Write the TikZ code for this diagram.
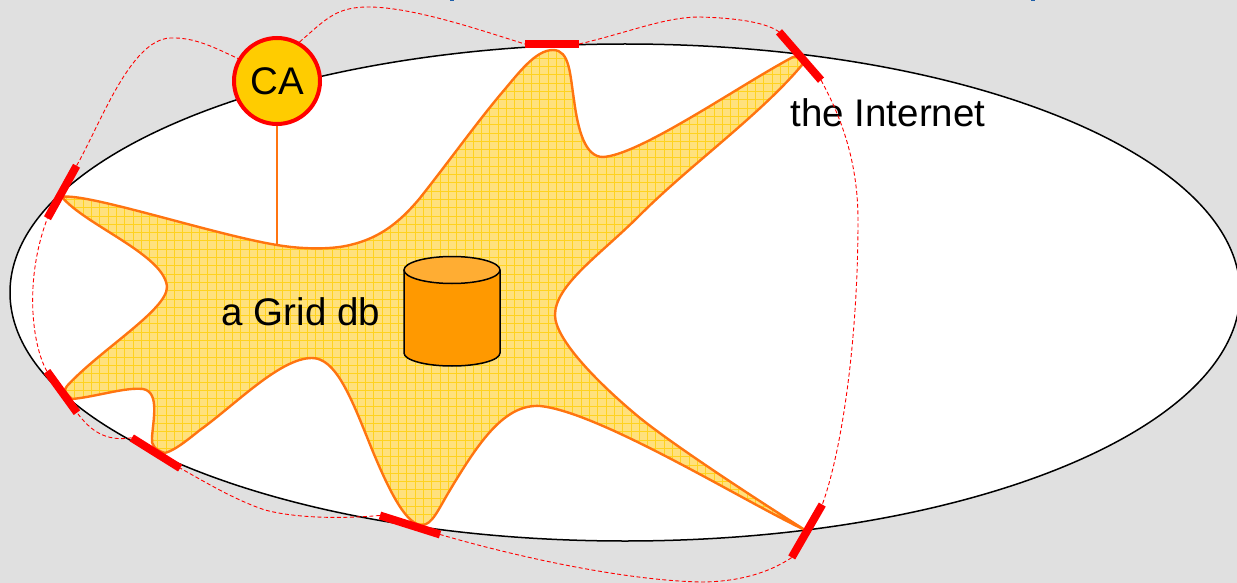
\documentclass[tikz,border=0pt]{standalone}
\usepackage{fontspec}
\setmainfont{Liberation Sans}
\definecolor{slide}{HTML}{E0E0E0}
\definecolor{gridfill}{HTML}{FFE17D}
\definecolor{gridline}{HTML}{FFD21F}
\definecolor{cafill}{HTML}{FFCC00}
\definecolor{gridedge}{HTML}{FF7410}
\definecolor{dbbody}{HTML}{FF9900}
\definecolor{dbtop}{HTML}{FFAD33}
\definecolor{speck}{HTML}{1F5FA8}
\def\gridshape{(62,197) .. controls (85,192) and (215,235) .. (277,245)
  .. controls (300,249) and (330,250) .. (350,245)
  .. controls (380,238) and (400,222) .. (420,198)
  .. controls (450,160) and (475,125) .. (500,95)
  .. controls (518,74) and (535,50) .. (553,50)
  .. controls (570,50) and (570,75) .. (574,100)
  .. controls (578,130) and (585,157) .. (603,157)
  .. controls (640,155) and (740,85) .. (793,57)
  .. controls (800,55) and (803,60) .. (802,65)
  .. controls (760,115) and (690,165) .. (640,215)
  .. controls (600,255) and (555,285) .. (555,315)
  .. controls (555,340) and (600,385) .. (640,418)
  .. controls (680,450) and (770,508) .. (805,530)
  .. controls (745,502) and (600,412) .. (540,406)
  .. controls (505,404) and (480,440) .. (450,490)
  .. controls (438,510) and (432,525) .. (422,525)
  .. controls (408,525) and (392,500) .. (367,437)
  .. controls (350,395) and (335,358) .. (312,358)
  .. controls (280,358) and (235,405) .. (200,430)
  .. controls (185,442) and (175,450) .. (165,453)
  .. controls (155,450) and (151,445) .. (152,438)
  .. controls (153,420) and (160,392) .. (143,389)
  .. controls (125,387) and (95,397) .. (72,399)
  .. controls (65,392) and (63,391) .. (67,386)
  .. controls (100,350) and (167,310) .. (167,287)
  .. controls (165,255) and (85,225) .. (62,197)}

\begin{document}
\begin{tikzpicture}[x=1pt,y=-1pt,font=\fontsize{38.5}{42}\selectfont]
  \tikzstyle{gateway}=[fill=red,minimum width=60pt,minimum height=8pt,inner sep=0pt]
  \tikzstyle{tunnel}=[red,line width=0.9pt,dash pattern=on 4pt off 2.5pt]
  \tikzstyle{dbline}=[draw=black,line width=1.5pt]
  \tikzstyle{meshline}=[gridline,line width=0.5pt]

  \useasboundingbox[fill=slide] (0,0) rectangle (1237,583);
  \fill[speck] (450,0) rectangle (454,1.2);
  \fill[speck] (1031,0) rectangle (1035,1.2);
  \draw[black,line width=1.5pt,fill=white] (625,292.5) ellipse (615 and 248.5);

  \begin{scope}
    \clip \gridshape;
    \fill[gridfill] (0,0) rectangle (1237,583);
    \foreach \gx in {0,1,...,150} \draw[meshline] (\gx*8.3,0) -- (\gx*8.3,583);
    \foreach \gy in {0,1,...,71} \draw[meshline] (0,\gy*8.3) -- (1237,\gy*8.3);
  \end{scope}
  \draw[gridedge,line width=2.4pt] \gridshape;

  \path[dbline,fill=dbbody] (404,270) -- (404,353)
        arc[start angle=180,end angle=0,x radius=48,y radius=13] -- (500,270);
  \path[dbline,fill=dbtop] (452,270) ellipse (48 and 13.5);

  \node[circle,draw=red,fill=cafill,line width=4pt,minimum size=86pt,inner sep=0pt] (ca) at (277,81) {CA};
  \coordinate (cafoot) at (277,245);
  \draw[gridedge,line width=2.4pt] (ca) -- (cafoot);
  \node (griddb) at (301,312) {a Grid db};
  \node (internet) at (888,113) {the Internet};

  \node[gateway,minimum width=54pt]             (gwtop)   at (552,44)  {};
  \node[gateway,minimum width=64pt,rotate=-49]  (gwright) at (800,56)  {};
  \node[gateway,minimum width=61pt,rotate=60]   (gwlow)   at (807,531) {};
  \node[gateway,minimum width=63pt,rotate=-17.5] (gwbot)  at (410,525) {};
  \node[gateway,minimum width=57pt,rotate=-32]  (gwfoot)  at (156,453) {};
  \node[gateway,minimum width=51pt,rotate=-54]  (gwsw)    at (62,392)  {};
  \node[gateway,minimum width=60pt,rotate=61]   (gwnw)    at (62,192)  {};

  \draw[tunnel] (ca.60) .. controls (325,20) and (335,8) .. (365,7)
        .. controls (410,6) and (480,30) .. (gwtop.west);
  \draw[tunnel] (gwtop.east) .. controls (630,32) and (665,17) .. (700,17)
        .. controls (735,18) and (765,22) .. (gwright.west);
  \draw[tunnel] (gwright.east) .. controls (840,115) and (858,160) .. (858,220)
        .. controls (858,340) and (842,450) .. (gwlow.east);
  \draw[tunnel] (gwlow.west) .. controls (770,572) and (740,582) .. (700,582)
        .. controls (620,580) and (510,555) .. (gwbot.east);
  \draw[tunnel] (gwbot.west) .. controls (340,519) and (295,518) .. (265,510)
        .. controls (235,500) and (205,482) .. (gwfoot.east);
  \draw[tunnel] (gwfoot.west) .. controls (105,442) and (90,430) .. (gwsw.east);
  \draw[tunnel] (gwsw.west) .. controls (32,345) and (24,280) .. (gwnw.west);
  \draw[tunnel] (gwnw.east) .. controls (100,125) and (130,40) .. (170,38)
        .. controls (195,37) and (215,48) .. (ca.150);
\end{tikzpicture}
\end{document}
